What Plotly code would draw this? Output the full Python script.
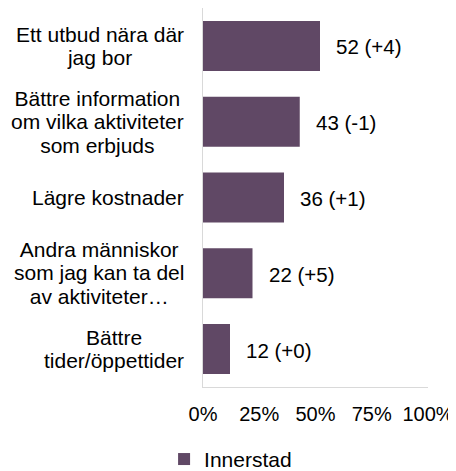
import plotly.graph_objects as go

categories = [
    "Ett utbud nära där<br>jag bor",
    "Bättre information<br>om vilka aktiviteter<br>som erbjuds",
    "Lägre kostnader",
    "Andra människor<br>som jag kan ta del<br>av aktiviteter…",
    "Bättre<br>tider/öppettider",
]
values = [52, 43, 36, 22, 12]
changes = ["+4", "-1", "+1", "+5", "+0"]
series_name = "Innerstad"
tick_vals = [0, 0.25, 0.5, 0.75, 1.0]
tick_text = ["0%", "25%", "50%", "75%", "100%"]

BAR_COLOR = "#604865"
AXIS_COLOR = "#d9d9d9"
FONT = "Liberation Sans, Arial, sans-serif"

keys = [f"c{i}" for i in range(len(categories))]
fractions = [v / 100 for v in values]

fig = go.Figure()
fig.add_trace(go.Bar(
    x=fractions,
    y=keys,
    orientation="h",
    name=series_name,
    marker=dict(color=BAR_COLOR, line=dict(width=0)),
    width=0.66,
    hoverinfo="skip",
))

annotations = []
# category labels (centered lines, block right-aligned next to axis)
for k, cat in zip(keys, categories):
    lines = cat.split("<br>")
    txt = "<br>".join(f'<span style="font-size:21px">{ln}</span>' for ln in lines)
    annotations.append(dict(
        x=0, xref="paper", y=k, yref="y",
        text=txt, showarrow=False,
        xanchor="right", yanchor="middle", align="center",
        xshift=-17,
        font=dict(family=FONT, size=18, color="#000000"),
    ))
# data labels
for k, f, v, c in zip(keys, fractions, values, changes):
    annotations.append(dict(
        x=f, xref="x", y=k, yref="y",
        text=f"{v} ({c})", showarrow=False,
        xanchor="left", yanchor="middle", xshift=14, yshift=-1,
        font=dict(family=FONT, size=20.5, color="#000000"),
    ))

fig.update_layout(
    width=456, height=471,
    margin=dict(l=195, r=36, t=0, b=92, autoexpand=False),
    paper_bgcolor="white", plot_bgcolor="white",
    font=dict(family=FONT, color="#000000"),
    showlegend=True,
    legend=dict(
        orientation="h",
        x=-0.173, xanchor="left",
        y=-0.191, yanchor="middle",
        font=dict(family=FONT, size=21, color="#000000"),
        itemwidth=30,
    ),
    xaxis=dict(
        range=[0, 1],
        tickvals=tick_vals,
        ticktext=tick_text,
        showgrid=False,
        zeroline=False,
        showline=True, linecolor=AXIS_COLOR, linewidth=1,
        ticks="outside", ticklen=9, tickcolor="rgba(0,0,0,0)",
        tickfont=dict(family=FONT, size=20, color="#000000"),
        fixedrange=True,
    ),
    yaxis=dict(
        categoryorder="array",
        categoryarray=keys[::-1],
        range=[-0.5, len(keys) - 0.5],
        showticklabels=False,
        showgrid=False,
        zeroline=False,
        showline=True, linecolor=AXIS_COLOR, linewidth=1,
        ticks="",
        fixedrange=True,
    ),
    annotations=annotations,
)

fig.write_html("out.html", config={"displayModeBar": False})
